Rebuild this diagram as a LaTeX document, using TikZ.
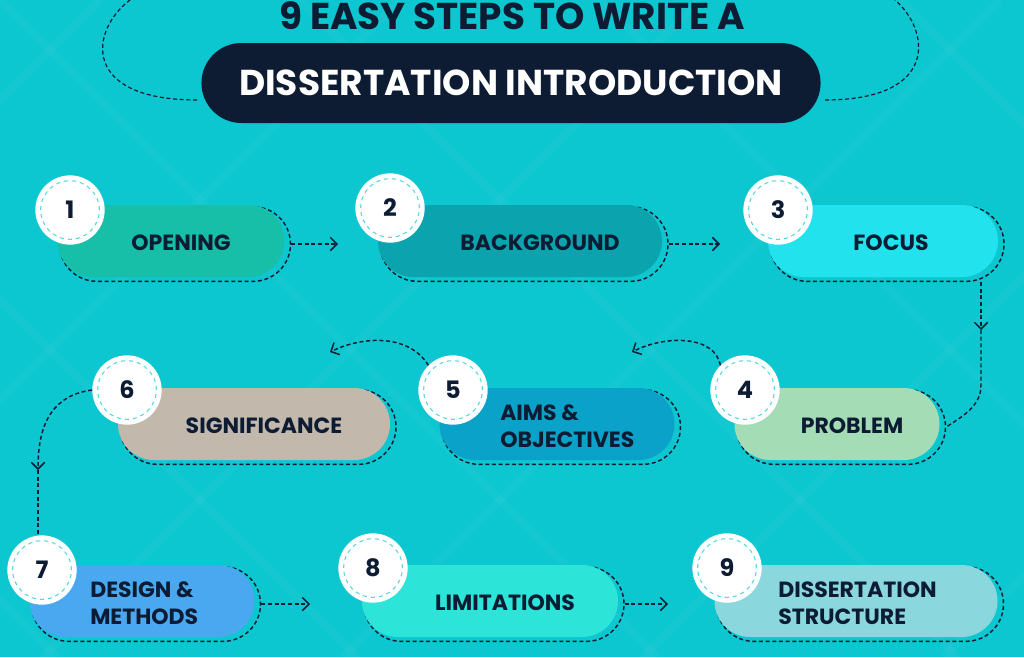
\documentclass[tikz,border=0pt]{standalone}
\usepackage{fontspec}
\setmainfont{Poppins}
\usetikzlibrary{shapes.misc,arrows.meta}
\definecolor{bg}{HTML}{0CC6D0}
\definecolor{ink}{HTML}{0D1B33}
\definecolor{cA}{HTML}{17BFA8}
\definecolor{cB}{HTML}{0AA3AE}
\definecolor{cC}{HTML}{22E2EE}
\definecolor{cD}{HTML}{A4DDB5}
\definecolor{cE}{HTML}{0AA2C8}
\definecolor{cF}{HTML}{C3B8AC}
\definecolor{cG}{HTML}{4AA8F0}
\definecolor{cH}{HTML}{2CE4D8}
\definecolor{cI}{HTML}{8AD8DE}
\tikzset{
 pill/.style={rounded rectangle,minimum height=54pt,inner sep=0pt},
 pilldash/.style={rounded rectangle,minimum height=56pt,inner sep=0pt,draw=ink,densely dashed,line width=1.1pt},
 numc/.style={circle,fill=white,minimum size=52pt,inner sep=0pt,font=\bfseries\fontsize{18}{18}\selectfont,text=ink,
   path picture={\draw[bg!70,dashed,line width=0.8pt] (path picture bounding box.center) circle (22pt);}},
 lab/.style={font=\bfseries\fontsize{16.5}{20}\selectfont,text=ink,align=left,inner sep=0pt},
 conn/.style={ink,densely dashed,line width=1.1pt},
 tip/.style={-{Straight Barb[length=5pt,width=10pt,line width=1.1pt]}},
}
% n, cx, cy, w, color, circle x, circle y, text anchor x, anchor, text
\newcommand\mkstep[9]{%
 \node[pilldash,minimum width={(#4+4)*0.75pt}] (d#1) at (#2+4,#3+3) {};
 \node[pill,fill=#5,minimum width={#4*0.75pt}] (p#1) at (#2,#3) {};
 \node[numc] (c#1) at (#6,#7) {#1};
 \node[lab,anchor=#9] (t#1) at (#8,#3+2) {\mklab};
}
\begin{document}
\begin{tikzpicture}[x=0.75pt,y=-0.75pt]
\fill[bg] (0,0) rectangle (1024,657);
\useasboundingbox (0,0) rectangle (1024,657);
\begin{scope}[white,opacity=0.035,line width=6pt]
\foreach \s in {-600,-300,0,300,600,900}{
 \draw (\s,0) -- (\s+657,657);
 \draw (\s+700,0) -- (\s+43,657);}
\end{scope}
% title
\coordinate (tl1) at (197,100);
\coordinate (tl2) at (130,0);
\coordinate (tr1) at (825,100);
\coordinate (tr2) at (895,0);
\draw[conn,line width=0.9pt] (tl1) .. controls (80,100) and (90,30) .. (tl2);
\draw[conn,line width=0.9pt] (tr1) .. controls (940,100) and (930,30) .. (tr2);
\node[font=\bfseries\fontsize{28}{28}\selectfont,text=ink] (title1) at (512,16) {9 EASY STEPS TO WRITE A};
\node[rounded rectangle,fill=ink,minimum width={628*0.75pt},minimum height={80*0.75pt},text=white,
 font=\bfseries\fontsize{27}{27}\selectfont] (title2) at (511,83) {DISSERTATION INTRODUCTION};
% steps
\def\mklab{OPENING}\mkstep{1}{171}{241}{227}{cA}{70}{210}{181}{center}
\def\mklab{BACKGROUND}\mkstep{2}{520}{241}{284}{cB}{390}{208}{540}{center}
\def\mklab{FOCUS}\mkstep{3}{883}{241}{230}{cC}{778}{210}{891}{center}
\def\mklab{PROBLEM}\mkstep{4}{837}{424}{205}{cD}{745}{390}{852}{center}
\def\mklab{AIMS \&\\OBJECTIVES}\mkstep{5}{557}{424}{235}{cE}{453}{390}{500}{west}
\def\mklab{SIGNIFICANCE}\mkstep{6}{254}{424}{272}{cF}{127}{390}{264}{center}
\def\mklab{DESIGN \&\\METHODS}\mkstep{7}{142}{601}{225}{cG}{42}{570}{90}{west}
\def\mklab{LIMITATIONS}\mkstep{8}{490}{601}{256}{cH}{373}{568}{505}{center}
\def\mklab{DISSERTATION\\STRUCTURE}\mkstep{9}{856}{601}{283}{cI}{727}{568}{778}{west}
% connectors
\draw[conn,tip] (d1.east) -- (d1.east -| 338,0);
\draw[conn,tip] (d2.east) -- (d2.east -| 720,0);
\coordinate (s3) at (981,282);
\coordinate (k3) at (981,330);
\draw[conn,tip] (s3) -- (k3);
\draw[conn] (k3) -- (981,385) .. controls (981,405) and (965,415) .. (d4.east);
\coordinate (a4) at (632,352);
\draw[conn,tip] (c4.north west) .. controls (715,335) and (665,335) .. (a4);
\coordinate (a5) at (330,352);
\draw[conn,tip] (c5.north west) .. controls (410,335) and (365,335) .. (a5);
\coordinate (a6) at (38,470);
\draw[conn,tip] (c6.west) .. controls (55,395) and (38,420) .. (a6);
\draw[conn] (a6) -- (c7.north -| 38,0);
\draw[conn,tip] (d7.east) -- (d7.east -| 310,0);
\draw[conn,tip] (d8.east) -- (d8.east -| 668,0);
\end{tikzpicture}
\end{document}
